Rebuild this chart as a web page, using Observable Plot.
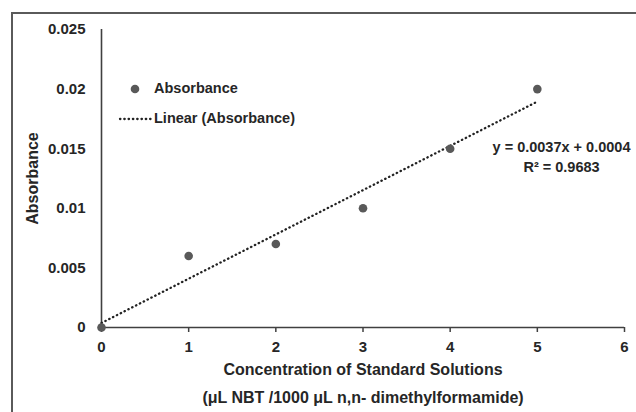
<!DOCTYPE html>
<html><head><meta charset="utf-8">
<script src="https://cdn.jsdelivr.net/npm/d3@7"></script>
<script src="https://cdn.jsdelivr.net/npm/@observablehq/plot@0.6"></script>
<style>
body{margin:0;background:#fff;}
#wrap{position:relative;width:636px;height:412px;overflow:hidden;font-family:"Liberation Sans",Arial,sans-serif;font-weight:bold;color:#262626;}
#border{position:absolute;left:11px;top:12px;width:700px;height:500px;border-left:2px solid #5a5a5a;border-top:2px solid #5a5a5a;pointer-events:none;}
.leg{position:absolute;font-size:14.5px;white-space:nowrap;line-height:1;}
</style></head>
<body><div id="wrap"><div id="chart"></div><div id="legend"></div><div id="border"></div></div>
<script>
const concentration = [0, 1, 2, 3, 4, 5];
const absorbance = [0, 0.006, 0.007, 0.010, 0.015, 0.020];
const xTicks = [0, 1, 2, 3, 4, 5, 6];
const yTicks = [0, 0.005, 0.01, 0.015, 0.02, 0.025];
const seriesName = "Absorbance";
const trendName = "Linear (Absorbance)";
const xTitle = ["Concentration of Standard Solutions", "(μL NBT /1000 μL n,n- dimethylformamide)"];
const yTitle = "Absorbance";

const data = concentration.map((c, i) => ({c, a: absorbance[i]}));
const mx = d3.mean(concentration), my = d3.mean(absorbance);
const sxy = d3.sum(data, d => (d.c - mx) * (d.a - my));
const sxx = d3.sum(data, d => (d.c - mx) ** 2);
const syy = d3.sum(data, d => (d.a - my) ** 2);
const slope = sxy / sxx, intercept = my - slope * mx, r2 = sxy * sxy / (sxx * syy);
const eqText = `y = ${slope.toFixed(4)}x + ${intercept.toFixed(4)}\nR² = ${r2.toFixed(4)}`;

const ink = "#262626";
const chart = Plot.plot({
  width: 636, height: 412,
  marginLeft: 101, marginRight: 12, marginTop: 29, marginBottom: 85,
  style: {fontFamily: '"Liberation Sans", Arial, sans-serif', fontWeight: "bold", color: ink, background: "transparent"},
  x: {domain: [0, 6], label: null},
  y: {domain: [0, 0.025], label: null},
  marks: [
    Plot.axisX({ticks: xTicks, tickSize: 5, tickPadding: 9, fontSize: 15, fontWeight: "bold", stroke: "#404040", strokeWidth: 1.5, strokeOpacity: 1, tickFormat: d => String(d)}),
    Plot.axisY({ticks: yTicks, tickSize: 0, tickPadding: 16, fontSize: 15, fontWeight: "bold", tickFormat: d => String(d)}),
    Plot.ruleY([0], {stroke: "#404040", strokeWidth: 1.6}),
    Plot.ruleX([0], {stroke: "#404040", strokeWidth: 1.6}),
    Plot.linearRegressionY(data, {x: "c", y: "a", ci: 0, stroke: "#222", strokeWidth: 2.3, strokeDasharray: "0.4,3.9", strokeLinecap: "round"}),
    Plot.dot(data, {x: "c", y: "a", r: 4.3, fill: "#595959", stroke: "none"}),
    Plot.text([eqText], {frameAnchor: "top-right", dx: -63, dy: 126, textAnchor: "middle", lineAnchor: "middle", lineHeight: 1.38, fontSize: 14.5, fontWeight: "bold", fill: ink}),
    Plot.text([yTitle], {frameAnchor: "left", dx: -69, rotate: -90, textAnchor: "middle", fontSize: 16, fontWeight: "bold", fill: ink}),
    Plot.text([xTitle.join("\n")], {frameAnchor: "bottom", dy: 53, textAnchor: "middle", lineAnchor: "middle", lineHeight: 1.75, fontSize: 16, fontWeight: "bold", fill: ink})
  ]
});
document.getElementById("chart").appendChild(chart);

const legend = document.getElementById("legend");
legend.innerHTML = `
<svg style="position:absolute;left:0;top:0" width="636" height="412">
  <circle cx="135" cy="89" r="4.3" fill="#595959"/>
  <line x1="120" y1="119" x2="151" y2="119" stroke="#222" stroke-width="2.3" stroke-dasharray="0.4,3.9" stroke-linecap="round"/>
</svg>
<div class="leg" style="left:154px;top:81px">${seriesName}</div>
<div class="leg" style="left:154px;top:111px">${trendName}</div>`;
</script>
</body></html>
